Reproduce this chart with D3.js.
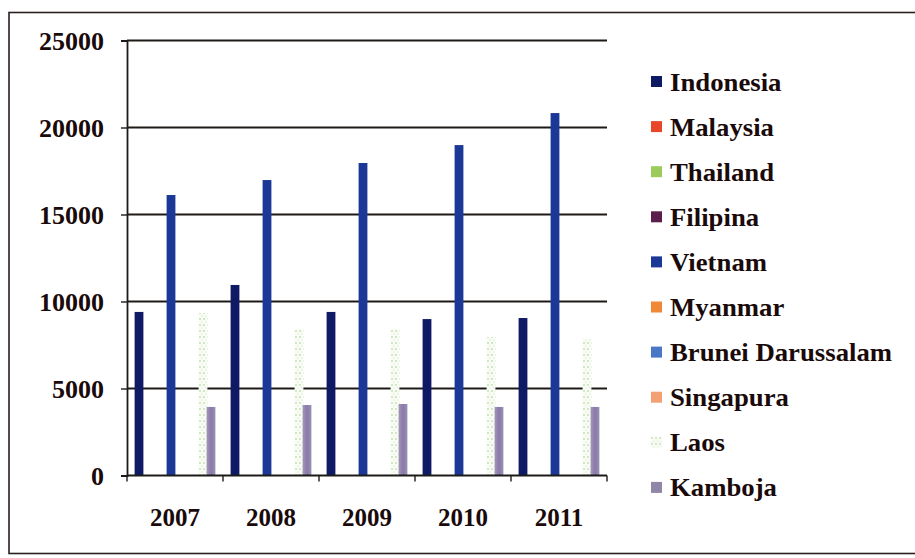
<!DOCTYPE html>
<html>
<head>
<meta charset="utf-8">
<script src="https://cdn.jsdelivr.net/npm/d3@7"></script>
<style>
  body { margin:0; background:#fff; }
  text { font-family:"Liberation Serif","Times New Roman",serif; font-weight:bold; fill:#1a0a0a; }
</style>
</head>
<body>
<div id="chart"></div>
<script>
// data
var years = ["2007","2008","2009","2010","2011"];
var countries = ["Indonesia","Malaysia","Thailand","Filipina","Vietnam","Myanmar","Brunei Darussalam","Singapura","Laos","Kamboja"];
var indonesia = [9400, 10950, 9400, 8990, 9050];
var malaysia  = [0, 0, 0, 0, 0];
var thailand  = [0, 0, 0, 0, 0];
var filipina  = [0, 0, 0, 0, 0];
var vietnam   = [16120, 16980, 17960, 18990, 20830];
var myanmar   = [0, 0, 0, 0, 0];
var brunei    = [0, 0, 0, 0, 0];
var singapura = [0, 0, 0, 0, 0];
var laos      = [9340, 8420, 8420, 7960, 7900];
var kamboja   = [3940, 4050, 4110, 3940, 3940];
var yTicks = [0, 5000, 10000, 15000, 20000, 25000];

var seriesVals = [indonesia, malaysia, thailand, filipina, vietnam, myanmar, brunei, singapura, laos, kamboja];
var colors = ["#0e1b64","#e8462a","#9ccb5c","#5b1d4c","#1c3896","#f08838","#4a78c6","#f3a072","url(#laosPat)","url(#kambojaGrad)"];
var legendColors = ["#0e1b64","#e8462a","#9ccb5c","#5b1d4c","#1c3896","#f08838","#4a78c6","#f3a072","url(#laosPat)","#8f86a8"];

var width = 915, height = 558;
var plotL = 127, plotR = 607, plotT = 40.5, plotB = 475.5;

var svg = d3.select("#chart").append("svg")
    .attr("width", width)
    .attr("height", height);

var defs = svg.append("defs");
// Laos: pale dotted fill
var pat = defs.append("pattern")
    .attr("id","laosPat")
    .attr("patternUnits","userSpaceOnUse")
    .attr("width",4).attr("height",6);
pat.append("rect").attr("width",4).attr("height",6).attr("fill","#f8fcf4");
pat.append("circle").attr("cx",1).attr("cy",1).attr("r",0.7).attr("fill","#8fc47a");
pat.append("circle").attr("cx",3).attr("cy",4).attr("r",0.5).attr("fill","#c2e0b4");
// Kamboja: grey-purple
var grad = defs.append("linearGradient")
    .attr("id","kambojaGrad")
    .attr("x1","0").attr("x2","1").attr("y1","0").attr("y2","0");
grad.append("stop").attr("offset","0%").attr("stop-color","#a497b8");
grad.append("stop").attr("offset","50%").attr("stop-color","#8a78aa");
grad.append("stop").attr("offset","100%").attr("stop-color","#9095b6");

// outer frame
svg.append("rect")
    .attr("x",9).attr("y",12.5)
    .attr("width",930).attr("height",541)
    .attr("fill","none")
    .attr("stroke","#2a2020")
    .attr("stroke-width",1.6);

var x0 = d3.scaleBand().domain(years).range([plotL, plotR]).paddingInner(0).paddingOuter(0);
var x1 = d3.scaleBand().domain(countries).range([0, x0.bandwidth()]).paddingInner(0).paddingOuter(1);
var y = d3.scaleLinear().domain([0, 25000]).range([plotB, plotT]);

// gridlines
svg.selectAll(".grid")
    .data(yTicks.slice(1))
  .enter().append("line")
    .attr("class","grid")
    .attr("x1", plotL).attr("x2", plotR)
    .attr("y1", function(d){ return y(d); })
    .attr("y2", function(d){ return y(d); })
    .attr("stroke","#1e1a18")
    .attr("stroke-width",1.8);

// bars
var groups = svg.selectAll(".year")
    .data(years)
  .enter().append("g")
    .attr("class","year")
    .attr("transform", function(d){ return "translate(" + x0(d) + ",0)"; });

groups.selectAll("rect")
    .data(function(d, i){
        return countries.map(function(c, j){ return {c:c, j:j, v:seriesVals[j][i]}; })
            .filter(function(o){ return o.v > 0; });
    })
  .enter().append("rect")
    .attr("x", function(d){ return x1(d.c) - 0.4; })
    .attr("width", x1.bandwidth() + 0.8)
    .attr("y", function(d){ return y(d.v); })
    .attr("height", function(d){ return y(0) - y(d.v); })
    .attr("fill", function(d){ return colors[d.j]; });

// y axis
var yAxis = svg.append("g").attr("transform","translate(" + plotL + ",0)")
    .call(d3.axisLeft(y).tickValues(yTicks).tickSize(6).tickPadding(17).tickFormat(d3.format("d")));
yAxis.select(".domain").attr("stroke","#1e1a18").attr("stroke-width",1.8);
yAxis.selectAll(".tick line").attr("stroke","#1e1a18").attr("stroke-width",1.4);
yAxis.selectAll("text")
    .style("font-size","26px")
    .style("font-family","Liberation Serif")
    .style("font-weight","bold")
    .attr("fill","#1a0a0a")
    .attr("dy","0.34em");

// x axis
var xAxis = svg.append("g").attr("transform","translate(0," + plotB + ")");
xAxis.append("line")
    .attr("x1", plotL).attr("x2", plotR)
    .attr("stroke","#1e1a18").attr("stroke-width",1.8);
xAxis.selectAll(".xtick")
    .data(years.concat(["end"]))
  .enter().append("line")
    .attr("x1", function(d){ return d === "end" ? plotR : x0(d); })
    .attr("x2", function(d){ return d === "end" ? plotR : x0(d); })
    .attr("y1",0).attr("y2",6)
    .attr("stroke","#1e1a18").attr("stroke-width",1.4);
xAxis.selectAll(".xlab")
    .data(years)
  .enter().append("text")
    .attr("x", function(d){ return x0(d) + x0.bandwidth()/2; })
    .attr("y", 50)
    .attr("text-anchor","middle")
    .style("font-size","25px")
    .text(function(d){ return d; });

// legend
var legend = svg.selectAll(".legend")
    .data(countries)
  .enter().append("g")
    .attr("class","legend")
    .attr("transform", function(d,i){ return "translate(651," + (82 + i*45.1) + ")"; });
legend.append("rect")
    .attr("x",0).attr("y",-6)
    .attr("width",11).attr("height",11)
    .attr("fill", function(d,i){ return legendColors[i]; });
legend.append("text")
    .attr("transform","translate(19,8.5) scale(1.07,1)")
    .style("font-size","25px")
    .text(function(d){ return d; });
</script>
</body>
</html>
